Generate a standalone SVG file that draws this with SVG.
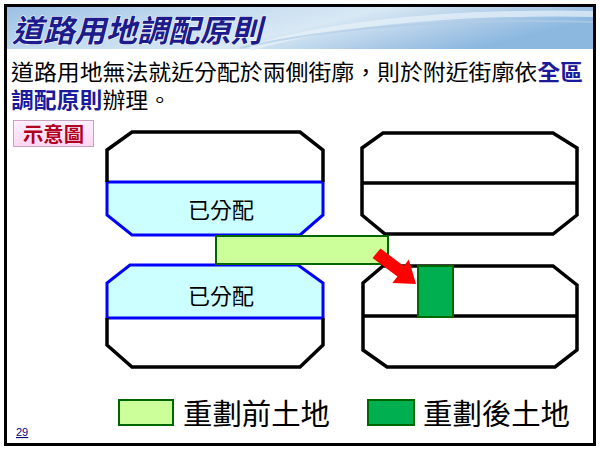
<svg xmlns="http://www.w3.org/2000/svg" width="600" height="451" viewBox="0 0 600 451">
<defs>
<linearGradient id="sky" x1="0" y1="0" x2="1" y2="0.3">
<stop offset="0" stop-color="#9cc0e4"/>
<stop offset="0.35" stop-color="#c4dcf0"/>
<stop offset="0.6" stop-color="#d8e8f4"/>
<stop offset="0.85" stop-color="#a8c8e6"/>
<stop offset="1" stop-color="#8cb8e0"/>
</linearGradient>
<linearGradient id="pink" x1="0" y1="0" x2="0" y2="1">
<stop offset="0" stop-color="#fff0ff"/>
<stop offset="1" stop-color="#ffd6f4"/>
</linearGradient>
</defs>
<style>
.cjk{font-family:"Noto Sans CJK TC","Noto Sans CJK SC",sans-serif}
.blk{fill:none;stroke:#000;stroke-width:3.5;stroke-linejoin:miter}
.div{stroke:#000;stroke-width:3.5}
.alloc{fill:#ccffff;stroke:#0000ff;stroke-width:3}
.pre{fill:#ccff99;stroke:#006600;stroke-width:2}
.post{fill:#00b050;stroke:#006600;stroke-width:2}
.lbl{font-size:22px;fill:#000}
.leg{font-size:29px;fill:#000}
</style>
<rect x="0" y="0" width="600" height="451" fill="#fff"/>
<!-- banner -->
<rect x="7" y="7" width="587" height="42" fill="url(#sky)"/>
<path d="M250 48 Q380 10 594 14" fill="none" stroke="#e8f2fa" stroke-width="6" opacity="0.7"/>
<path d="M240 48 Q380 16 594 22" fill="none" stroke="#b0cce6" stroke-width="2" opacity="0.7"/>
<text x="12" y="42" class="cjk" font-size="31" font-weight="bold" font-style="italic" fill="#1c1c8c" stroke="#ffffff" stroke-width="1" paint-order="stroke" textLength="250" lengthAdjust="spacingAndGlyphs">道路用地調配原則</text>
<!-- frame -->
<rect x="5.5" y="5.5" width="589" height="439" fill="none" stroke="#000" stroke-width="3"/>
<!-- body text -->
<text x="11" y="80" class="cjk" font-size="21.5" fill="#000" textLength="572" lengthAdjust="spacingAndGlyphs">道路用地無法就近分配於兩側街廓，則於附近街廓依<tspan fill="#1a1a9a" font-weight="bold">全區</tspan></text>
<text x="11" y="108" class="cjk" font-size="21.5" fill="#000" textLength="160" lengthAdjust="spacingAndGlyphs"><tspan fill="#1a1a9a" font-weight="bold">調配原則</tspan>辦理。</text>
<!-- legend tag -->
<g id="tag">
<rect x="13.5" y="120.5" width="80" height="26" fill="url(#pink)" stroke="#c8a0c0" stroke-width="1"/>
<text x="53.5" y="142" text-anchor="middle" class="cjk" font-size="20" font-weight="bold" fill="#b00020" textLength="61" lengthAdjust="spacingAndGlyphs">示意圖</text>
</g>
<!-- blocks -->
<g id="block-lt">
<path class="alloc" d="M107 182 L323 182 L323 215 L300 235 L132 235 L107 215 Z"/>
<path class="blk" d="M107 182 L107 150 L132 132 L300 132 L323 150 L323 182"/>
<text x="221" y="218" text-anchor="middle" class="cjk lbl">已分配</text>
</g>
<g id="block-lb">
<path class="alloc" d="M130 265 L298 265 L323 283 L323 318 L107 318 L107 283 Z"/>
<path class="blk" d="M107 318 L107 345 L132 367 L300 367 L323 345 L323 318"/>
<text x="221" y="304" text-anchor="middle" class="cjk lbl">已分配</text>
</g>
<g id="block-rt">
<path class="blk" d="M383 133 L553 133 L577 148 L577 215 L553 234 L385 234 L362 215 L362 148 Z"/>
<line class="div" x1="362" y1="183" x2="577" y2="183"/>
</g>
<g id="block-rb">
<path class="blk" d="M383 266 L553 266 L577 285 L577 350 L555 367 L387 367 L363 350 L363 283 Z"/>
<line class="div" x1="363" y1="316" x2="577" y2="316"/>
</g>
<g id="land-pre">
<rect class="pre" x="216" y="236" width="172" height="28"/>
</g>
<g id="land-post">
<rect class="post" x="418" y="266" width="35" height="51"/>
</g>
<g id="connectors">
<polygon fill="#ff0000" points="380.5,248.5 403.8,266 408.8,259.4 416,284 392.4,283 397.4,276.4 372.5,258"/>
</g>
<!-- legend -->
<g id="legend-pre">
<rect class="pre" x="119" y="400" width="54" height="25"/>
<text x="183" y="425" class="cjk leg" textLength="147" lengthAdjust="spacingAndGlyphs">重劃前土地</text>
</g>
<g id="legend-post">
<rect class="post" x="368" y="400" width="46" height="25"/>
<text x="423" y="425" class="cjk leg" textLength="147" lengthAdjust="spacingAndGlyphs">重劃後土地</text>
</g>
<text x="16" y="436" font-family="Liberation Sans, sans-serif" font-size="11" fill="#000080" text-decoration="underline">29</text>
</svg>
